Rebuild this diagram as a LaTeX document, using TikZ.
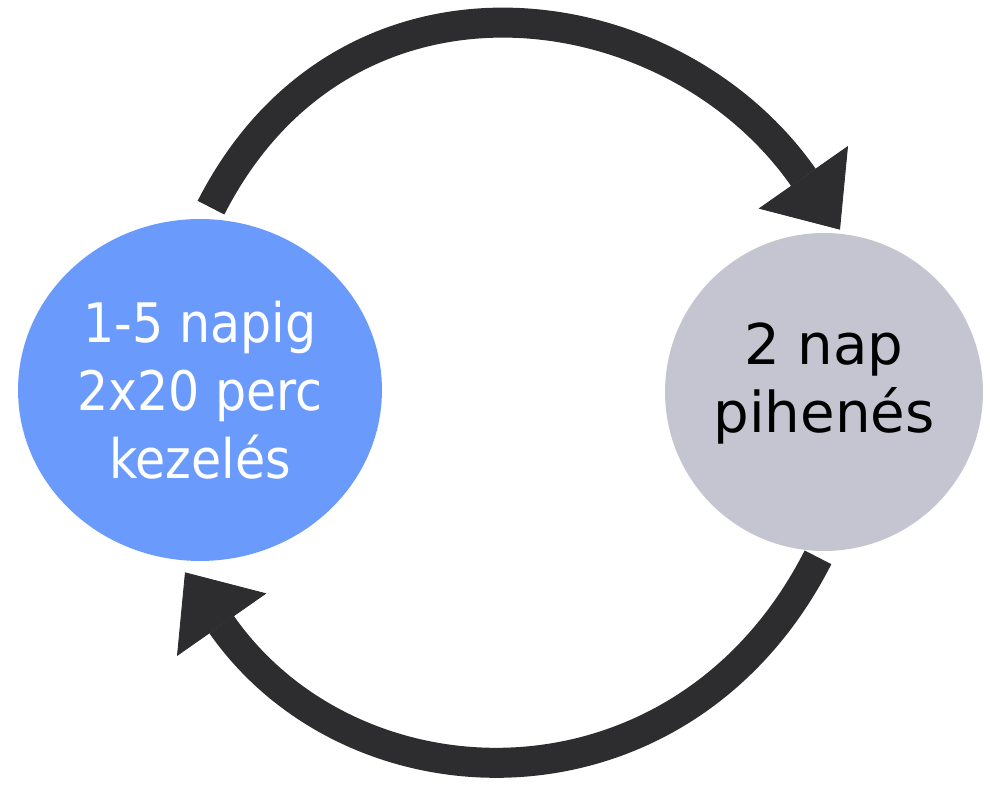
\documentclass[tikz,border=0pt]{standalone}
\usepackage{fontspec}
\setmainfont{DejaVu Sans}
\newfontfamily\condfont{DejaVu Sans Condensed}
\usepackage{tikz}
\usetikzlibrary{positioning}
\usetikzlibrary{shapes.geometric,arrows.meta}
\definecolor{kezblue}{RGB}{106,155,252}
\definecolor{pihgray}{RGB}{196,197,208}
\definecolor{swingdark}{RGB}{45,45,47}
\tikzset{%
  treat/.style  = {ellipse, fill=kezblue, minimum width=7.28cm,
    minimum height=6.84cm, inner sep=0pt, align=center, text=white,
    font=\condfont\fontsize{31}{38.7}\selectfont}, % Treatment days
  rest/.style   = {circle, fill=pihgray, minimum size=6.36cm, inner sep=0pt,
    align=center, text depth=0.58cm, font=\fontsize{32}{38.7}\selectfont}, % Rest days
  swing/.style  = {draw=swingdark, line width=0.6cm} % Cycle arrow
}

\begin{document}
\begin{tikzpicture}[x=0.02cm, y=0.02cm,
    >={Triangle[length=1.28cm, width=2.18cm, line width=0.5pt]}]
  \useasboundingbox (0,0) rectangle (1000,788);

  \draw node at (200,398) [treat] (kez) {1-5 napig\\2x20 perc\\kezelés};
  \draw node at (824,396) [rest] (pih) {2 nap\\pihenés};

  \draw[swing, ->] ([shift={(11,11)}]kez.north) to[out=63, in=125, looseness=1.2] ([shift={(16,3)}]pih.north);
  \draw[swing, ->] ([shift={(-6,-6)}]pih.south) to[out=243, in=305, looseness=1.2] ([shift={(-15,-11)}]kez.south);

\end{tikzpicture}
\end{document}
